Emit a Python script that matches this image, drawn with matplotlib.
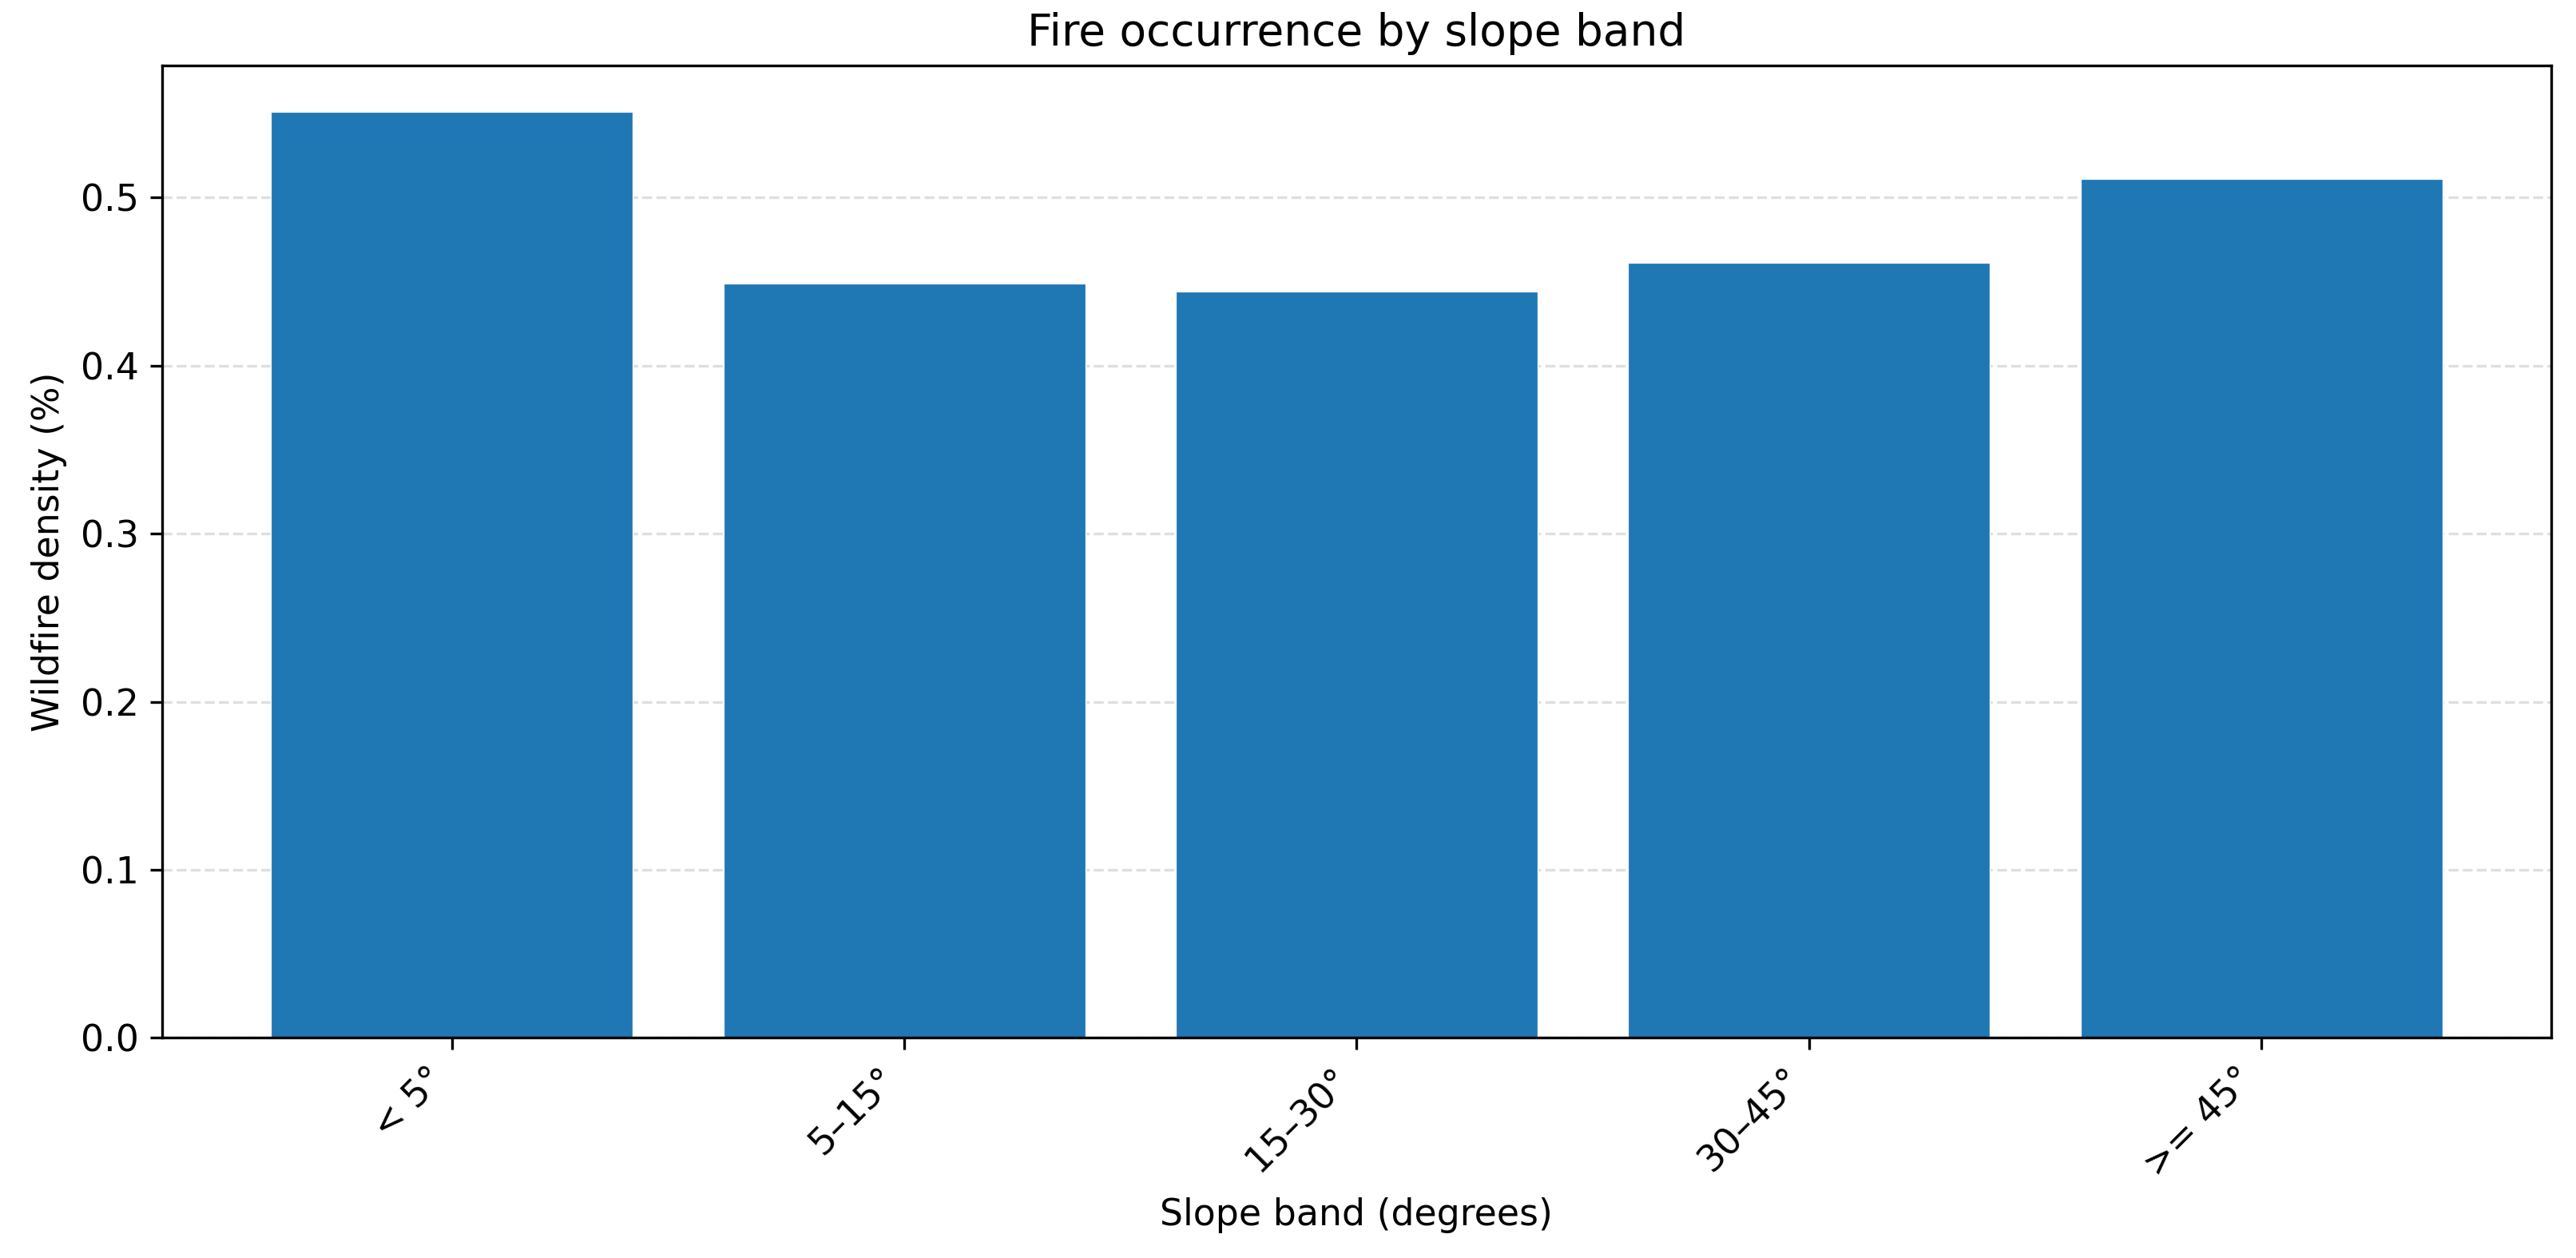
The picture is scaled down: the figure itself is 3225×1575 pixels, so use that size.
import matplotlib
matplotlib.use("Agg")
import matplotlib.pyplot as plt

# slope bands and wildfire density
bands = ["< 5°", "5–15°", "15–30°", "30–45°", ">= 45°"]
density = [0.551, 0.449, 0.444, 0.461, 0.511]

plt.rcParams["font.size"] = 11

fig, ax = plt.subplots(figsize=(10.753, 5.25))
ax.bar(bands, density, color="#1f77b4", edgecolor="white", linewidth=0.3)
ax.set_title("Fire occurrence by slope band")
ax.set_xlabel("Slope band (degrees)")
ax.set_ylabel("Wildfire density (%)")
ax.set_xticks(range(len(bands)))
ax.set_xticklabels(bands, rotation=45, ha="right")
ax.yaxis.grid(True, linestyle="--", alpha=0.4)
ax.set_axisbelow(True)
fig.subplots_adjust(left=0.063, right=0.990, top=0.948, bottom=0.175)
fig.savefig("out.png", dpi=300)
